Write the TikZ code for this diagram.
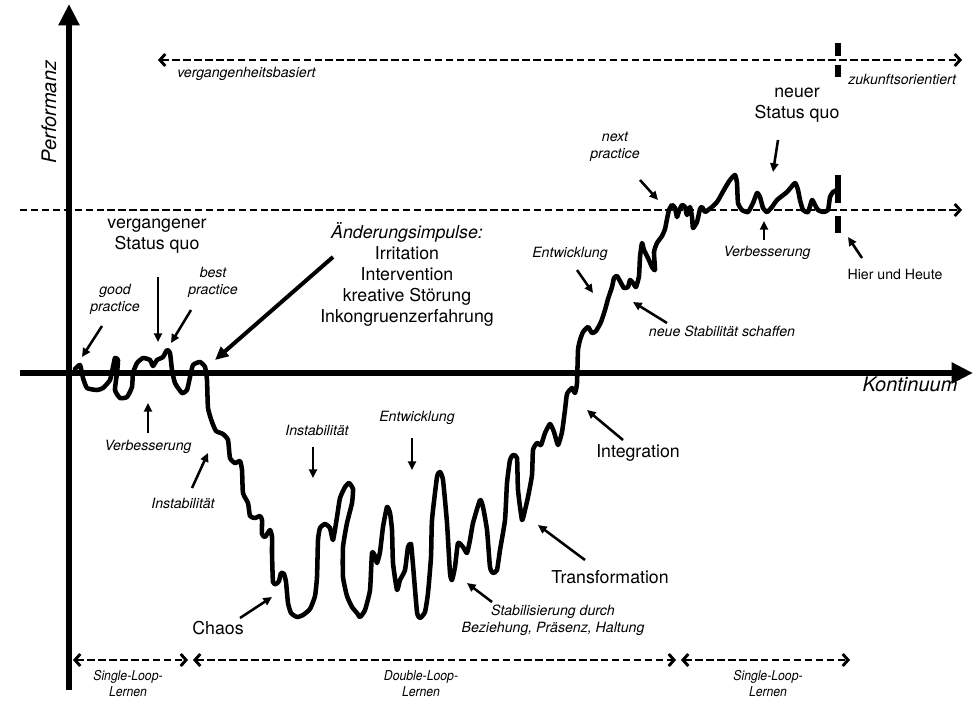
\documentclass[tikz,border=0pt]{standalone}
\usepackage{fontspec}
\setmainfont{TeX Gyre Heros}
\newfontfamily\condfont[FakeStretch=0.9]{TeX Gyre Heros}
\usetikzlibrary{arrows.meta}
\begin{document}
\begin{tikzpicture}[x=0.75pt,y=-0.75pt,
  axisline/.style={line width=4.5pt,-{Triangle[length=16pt,width=15pt]}},
  barb/.style={line width=1.5pt,dash pattern=on 5.6pt off 2.6pt,
    {Straight Barb[length=4pt,width=9pt,line width=2.2pt]}-{Straight Barb[length=4pt,width=9pt,line width=2.2pt]}},
  rbarb/.style={line width=1.5pt,dash pattern=on 5.6pt off 2.6pt,
    -{Straight Barb[length=4pt,width=9pt,line width=2.2pt]}},
  tick/.style={line width=4pt},
  ptr/.style={line width=1.9pt,-{Triangle[length=6.5pt,width=6pt]}},
  bigptr/.style={line width=3pt,-{Triangle[length=10pt,width=9pt]}},
  curve/.style={line width=3.4pt,line join=round,line cap=round},
  big/.style={font=\fontsize{13.3}{15.8}\selectfont,align=center,inner sep=0pt},
  small/.style={font=\fontsize{10.6}{12.7}\selectfont\itshape,align=center,inner sep=0pt},
  loop/.style={font=\condfont\fontsize{10.2}{12}\selectfont\itshape,align=center,inner sep=0pt},
  axlabel/.style={font=\fontsize{15}{18}\selectfont\itshape,inner sep=0pt}
]
\useasboundingbox (0,0) rectangle (973,700);

% axes
\coordinate (y0) at (69,690); \coordinate (y1) at (69,4);
\coordinate (x0) at (20,373); \coordinate (x1) at (973,373);
\draw[axisline] (y0) -- (y1);
\draw[axisline] (x0) -- (x1);
\node[axlabel,rotate=90] (perf) at (49,112) {Performanz};
\node[axlabel] (kont) at (910,384) {Kontinuum};

% time orientation
\coordinate (t0) at (158,60); \coordinate (t1) at (962,60);
\draw[barb] (t0) -- (t1);
\coordinate (tk1a) at (838,43); \coordinate (tk1b) at (838,56);
\coordinate (tk1c) at (838,65); \coordinate (tk1d) at (838,77);
\draw[tick] (tk1a) -- (tk1b); \draw[tick] (tk1c) -- (tk1d);
\node[small,anchor=west] (vb) at (177,74) {vergangenheitsbasiert};
\node[small,anchor=west] (zo) at (848,79) {zukunftsorientiert};

% level of the new status quo
\coordinate (s0) at (20,210); \coordinate (s1) at (962,210);
\draw[rbarb] (s0) -- (s1);
\coordinate (tk2a) at (838,175); \coordinate (tk2b) at (838,203);
\coordinate (tk2c) at (838,216); \coordinate (tk2d) at (838,233);
\draw[tick] (tk2a) -- (tk2b); \draw[tick] (tk2c) -- (tk2d);

% performance curve
\draw[curve] plot[smooth,tension=0.3] coordinates {
 (75,369) (80,365) (83,378) (87,388) (97,390) (103,388) (110,380) (113,367)
 (115,358) (118,360) (117,373) (115,390) (120,398) (127,397) (132,387) (133,373)
 (137,363) (143,358) (150,360) (153,366) (157,360) (163,357) (167,350) (170,353)
 (172,370) (175,383) (182,393) (187,390) (190,377) (193,365) (200,362) (205,367)
 (207,380) (208,408) (212,422) (216,431) (223,434) (228,440)
 (230,458) (235,463) (240,461) (242,470) (243,493) (248,503) (250,516) (255,518)
 (260,516) (262,520) (262,534) (265,537) (270,530) (272,537) (272,553) (273,582)
 (276,584) (279,581) (281,573) (284,574) (286,582) (288,603) (291,613) (297,617)
 (303,615) (310,609) (315,596) (317,577) (318,540) (320,528) (325,524) (330,528)
 (333,540) (337,517) (340,498) (345,487) (349,483) (353,489) (352,503) (347,523)
 (343,547) (343,577) (347,596) (352,607) (357,613) (360,617) (365,610) (370,590)
 (372,553) (375,556) (377,563) (380,552) (383,527) (387,507) (390,513) (392,530)
 (393,563) (397,590) (400,580) (405,570) (408,547) (411,544) (413,565) (417,612)
 (420,618) (425,612) (428,593) (431,557) (432,520) (437,477) (440,472) (443,480)
 (447,523) (450,573) (452,580) (455,567) (458,543) (463,547) (467,553) (470,540)
 (473,523) (480,500) (483,507) (487,530) (490,567) (493,573) (497,570) (500,550)
 (505,520) (507,483) (510,460) (513,455) (517,458) (518,490) (522,520) (525,510)
 (528,497) (532,475) (533,450) (537,443) (541,445) (545,433) (550,424) (554,432)
 (558,445) (562,432) (565,410) (567,394) (572,388) (575,393) (577,383) (578,350)
 (580,340) (583,332) (588,327) (592,333) (596,331) (601,322) (605,310) (608,299)
 (612,287) (614,278) (617,276) (621,283) (624,288) (628,287) (630,280) (633,283)
 (636,287) (639,276) (640,257) (642,243) (644,250) (648,258) (652,267) (655,270)
 (654,252) (657,243) (662,236) (665,229) (667,219) (669,210) (672,205) (675,208)
 (677,217) (679,211) (682,205) (685,207) (687,215) (690,207) (692,217) (693,228)
 (697,222) (700,209) (702,207) (705,212) (708,210) (712,207) (717,202) (720,197)
 (725,188) (730,180) (735,175) (737,183) (738,203) (742,210) (748,212) (753,203)
 (757,193) (760,197) (763,208) (767,212) (772,207) (777,200) (787,192) (795,183)
 (798,190) (800,200) (803,210) (808,212) (812,200) (815,205) (818,210) (823,212)
 (828,210) (830,197) (833,192) (837,190)};

% labels of the old status quo
\node[big] (vsq) at (157,236) {vergangener\\Status quo};
\coordinate (vsq-a) at (158,277); \coordinate (vsq-b) at (158,342);
\draw[ptr] (vsq-a) -- (vsq-b);
\node[small] (good) at (115,299) {good\\practice};
\coordinate (good-a) at (102,326); \coordinate (good-b) at (82,357);
\draw[ptr] (good-a) -- (good-b);
\node[small] (best) at (213,282) {best\\practice};
\coordinate (best-a) at (191,310); \coordinate (best-b) at (171,343);
\draw[ptr] (best-a) -- (best-b);
\node[small] (verb1) at (148,447) {Verbesserung};
\coordinate (verb1-a) at (148,433); \coordinate (verb1-b) at (148,403);
\draw[ptr] (verb1-a) -- (verb1-b);

% change impulses
\node[big] (impulse) at (407,274.5) {{\itshape Änderungsimpulse:}\\Irritation\\Intervention\\kreative Störung\\Inkongruenzerfahrung};
\coordinate (imp-a) at (333,257); \coordinate (imp-b) at (215,360);
\draw[bigptr] (imp-a) -- (imp-b);

% descent and chaos
\node[small] (inst1) at (183,503) {Instabilität};
\coordinate (inst1-a) at (192,488); \coordinate (inst1-b) at (208,453);
\draw[ptr] (inst1-a) -- (inst1-b);
\node[small] (inst2) at (317,430) {Instabilität};
\coordinate (inst2-a) at (313,447); \coordinate (inst2-b) at (313,478);
\draw[ptr] (inst2-a) -- (inst2-b);
\node[small] (entw1) at (417,418) {Entwicklung};
\coordinate (entw1-a) at (412,438); \coordinate (entw1-b) at (412,470);
\draw[ptr] (entw1-a) -- (entw1-b);
\node[big] (chaos) at (218,628) {Chaos};
\coordinate (chaos-a) at (240,618); \coordinate (chaos-b) at (272,597);
\draw[ptr] (chaos-a) -- (chaos-b);
\node[small] (stab) at (553,620) {Stabilisierung durch\\Beziehung, Präsenz, Haltung};
\coordinate (stab-a) at (492,602); \coordinate (stab-b) at (467,583);
\draw[ptr] (stab-a) -- (stab-b);

% rise
\node[big] (transf) at (610,577) {Transformation};
\coordinate (transf-a) at (585,560); \coordinate (transf-b) at (538,525);
\draw[ptr] (transf-a) -- (transf-b);
\node[big] (integ) at (638,453) {Integration};
\coordinate (integ-a) at (623,440); \coordinate (integ-b) at (587,410);
\draw[ptr] (integ-a) -- (integ-b);
\node[small] (entw2) at (570,254) {Entwicklung};
\coordinate (entw2-a) at (577,270); \coordinate (entw2-b) at (593,293);
\draw[ptr] (entw2-a) -- (entw2-b);
\node[small] (nstab) at (722,331) {neue Stabilität schaffen};
\coordinate (nstab-a) at (667,323); \coordinate (nstab-b) at (633,302);
\draw[ptr] (nstab-a) -- (nstab-b);

% new status quo
\node[small] (next) at (615,147) {next\\practice};
\coordinate (next-a) at (640,180); \coordinate (next-b) at (658,200);
\draw[ptr] (next-a) -- (next-b);
\node[big] (nsq) at (797,105) {neuer\\Status quo};
\coordinate (nsq-a) at (778,140); \coordinate (nsq-b) at (773,172);
\draw[ptr] (nsq-a) -- (nsq-b);
\node[small] (verb2) at (767,253) {Verbesserung};
\coordinate (verb2-a) at (764,240); \coordinate (verb2-b) at (764,221);
\draw[ptr] (verb2-a) -- (verb2-b);
\node[small,font=\fontsize{10.6}{12.7}\selectfont] (hier) at (895,274) {Hier und Heute};
\coordinate (hier-a) at (862,258); \coordinate (hier-b) at (848,237);
\draw[ptr] (hier-a) -- (hier-b);

% learning modes
\coordinate (l0) at (73,660); \coordinate (l1) at (188,660);
\coordinate (l2) at (193,660); \coordinate (l3) at (676,660);
\coordinate (l4) at (681,660); \coordinate (l5) at (850,660);
\draw[barb] (l0) -- (l1);
\draw[barb] (l2) -- (l3);
\draw[barb] (l4) -- (l5);
\node[loop] (sl1) at (128,684) {Single-Loop-\\Lernen};
\node[loop] (dl) at (421,684) {Double-Loop-\\Lernen};
\node[loop] (sl2) at (768,684) {Single-Loop-\\Lernen};
\end{tikzpicture}
\end{document}
